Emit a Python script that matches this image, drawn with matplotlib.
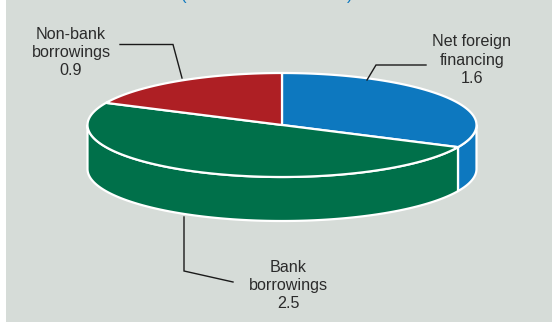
import numpy as np
import matplotlib
matplotlib.use("Agg")
import matplotlib.pyplot as plt
from matplotlib.patches import Polygon, Rectangle

plt.rcParams['font.family'] = ['Liberation Sans', 'DejaVu Sans']

labels = ["Net foreign\nfinancing", "Bank\nborrowings", "Non-bank\nborrowings"]
values = [1.6, 2.5, 0.9]
colores = ["#0D78BF", "#00704A", "#AE1F24"]

FONDO = "#D6DCD8"
TEXTO = "#2B2B2B"
cx, cy = 282, 125
rx, ry = 194.5, 52
alto = 44
LW = 1.6


def borde(a1, a2, dy=0):
    """Puntos del borde de la elipse entre dos angulos (grados)"""
    t = np.radians(np.linspace(a1, a2, 200))
    return np.column_stack([cx + rx * np.cos(t), cy - ry * np.sin(t) + dy])


fig = plt.figure(figsize=(5.52, 3.22), dpi=100)
ax = fig.add_axes([0, 0, 1, 1])
ax.set_xlim(0, 552)
ax.set_ylim(322, 0)
ax.axis("off")
ax.add_patch(Rectangle((6, 0), 546, 322, fc=FONDO, ec="none"))

# sectores en sentido horario desde arriba
fracciones = np.array(values) / sum(values)
fin = 90 - 360 * np.cumsum(fracciones)
inicio = np.r_[90, fin[:-1]]

# pared lateral, solo la parte delantera
for a1, a2, color in zip(inicio, fin, colores):
    lo, hi = max(a2, -180), min(a1, 0)
    if lo < hi:
        pts = np.vstack([borde(hi, lo), borde(lo, hi, alto)])
        ax.add_patch(Polygon(pts, closed=True, fc=color, ec="white", lw=LW,
                             joinstyle="round", zorder=2))

# tapa superior
for a1, a2, color in zip(inicio, fin, colores):
    pts = np.vstack([[cx, cy], borde(a1, a2)])
    ax.add_patch(Polygon(pts, closed=True, fc=color, ec="white", lw=LW,
                         joinstyle="round", zorder=3))

# titulo cortado por el borde superior
ax.text(184, 0, "(", color="#0D78BF", fontsize=12, ha="center", va="baseline")
ax.text(350, 0, ")", color="#0D78BF", fontsize=12, ha="center", va="baseline")

# etiquetas con su guia
pos_texto = [(472, 60), (288, 285.5), (71, 52.5)]
guias = [
    [(426, 65), (376, 65), (367, 80)],
    [(184, 217), (184, 271), (233, 282)],
    [(120, 44.5), (173, 44.5), (182, 78)],
]
for lab, val, (x, y), guia in zip(labels, values, pos_texto, guias):
    ax.text(x, y, f"{lab}\n{val}", ha="center", va="center", color=TEXTO,
            fontsize=11.6, linespacing=1.28, zorder=5)
    gx, gy = zip(*guia)
    ax.plot(gx, gy, color="#1A1A1A", lw=1.0, solid_joinstyle="miter", zorder=4)

fig.savefig("out.png", dpi=100)
